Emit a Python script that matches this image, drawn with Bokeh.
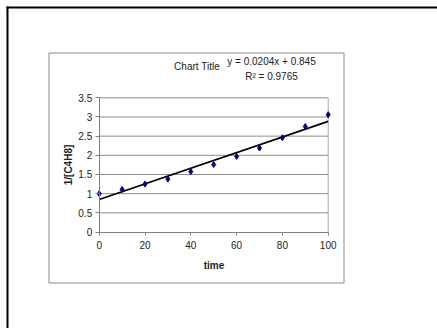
from bokeh.plotting import figure
from bokeh.models import LinearAxis, FixedTicker, Label, Range1d
from bokeh.embed import file_html
from bokeh.resources import INLINE

# ---- data ----
time = [0, 10, 20, 30, 40, 50, 60, 70, 80, 90, 100]
inv_c4h8 = [1.00, 1.11, 1.25, 1.38, 1.575, 1.76, 1.97, 2.19, 2.46, 2.75, 3.06]
slope = 0.0204
intercept = 0.845
r_squared = 0.9765
y_ticks = [0, 0.5, 1, 1.5, 2, 2.5, 3, 3.5]
y_tick_labels = ["0", "0.5", "1", "1.5", "2", "2.5", "3", "3.5"]
x_ticks = [0, 20, 40, 60, 80, 100]
chart_title = "Chart Title"
x_label = "time"
y_label = "1/[C4H8]"

FONT = "Liberation Sans"

# ---- geometry (page pixels) ----
W, H = 437, 328
X0_PX, X1_PX = 98.7, 327.7      # pixel of x=0 and x=100
Y0_PX, Y1_PX = 231.5, 97.3      # pixel of y=0 and y=3.5
XMIN, XMAX = x_ticks[0], x_ticks[-1]
YMIN, YMAX = y_ticks[0], y_ticks[-1]
kx = (X1_PX - X0_PX) / (XMAX - XMIN)
ky = (Y0_PX - Y1_PX) / (YMAX - YMIN)
x_start = XMIN - X0_PX / kx
x_end = x_start + W / kx
y_end = YMAX + Y1_PX / ky
y_start = y_end - H / ky


def px2x(px):
    return x_start + px / kx


def py2y(py):
    return y_end - py / ky


p = figure(width=W, height=H, output_backend="svg", toolbar_location=None,
           x_axis_location=None, y_axis_location=None,
           x_range=Range1d(x_start, x_end), y_range=Range1d(y_start, y_end),
           min_border=0, outline_line_color=None)
p.xgrid.visible = False
p.ygrid.visible = False
p.background_fill_color = "white"
p.border_fill_color = "white"

# outer page frame (black, only left and top edges visible) and chart box (grey)
p.segment(x0=[px2x(7), px2x(6)], y0=[py2y(6), py2y(7)],
          x1=[px2x(7), px2x(W + 40)], y1=[py2y(H + 40), py2y(7)],
          line_color="black", line_width=2)
p.quad(left=[px2x(48.5)], right=[px2x(343.5)], top=[py2y(52.5)], bottom=[py2y(282.5)],
       fill_color=None, line_color="#8a8a8a", line_width=1)

# gridlines (horizontal at y ticks, spanning the x extent) and right plot border
gy = y_ticks[1:]
p.segment(x0=[XMIN] * len(gy), x1=[XMAX] * len(gy), y0=gy, y1=gy,
          line_color="#8c8c8c", line_width=1)
p.segment(x0=[XMAX], x1=[XMAX], y0=[YMIN], y1=[YMAX], line_color="#a8a8a8", line_width=1)

# axes
common = dict(axis_label_text_font_style="bold", axis_label_text_font=FONT,
              axis_label_text_font_size="10px", axis_label_text_color="#222222",
              major_label_text_font=FONT, major_label_text_font_size="10px",
              major_label_text_color="#222222", axis_line_color="#808080",
              major_tick_line_color="#808080", major_tick_in=0,
              minor_tick_line_color=None)
yaxis = LinearAxis(fixed_location=XMIN, ticker=FixedTicker(ticks=y_ticks), bounds=(YMIN, YMAX),
                   major_label_overrides={t: l for t, l in zip(y_ticks, y_tick_labels)},
                   axis_label=y_label, major_tick_out=4, major_label_standoff=3,
                   axis_label_standoff=2, **common)
xaxis = LinearAxis(fixed_location=YMIN, ticker=FixedTicker(ticks=x_ticks), bounds=(XMIN, XMAX),
                   axis_label=x_label, major_tick_out=3, major_label_standoff=6,
                   axis_label_standoff=7, **common)
p.add_layout(yaxis, "left")
p.add_layout(xaxis, "below")

# trendline from fit coefficients
tx = [time[0], time[-1]]
ty = [intercept + slope * t for t in tx]
p.line(tx, ty, line_color="black", line_width=1.6)

# data points
p.scatter(time, inv_c4h8, marker="diamond", size=6, fill_color="#00008b", line_color="#00008b")

# texts
lab = dict(text_align="center", text_baseline="middle", text_font=FONT,
           text_font_size="10px", text_color="#222222")
p.add_layout(Label(x=px2x(196.5), y=py2y(66), text=chart_title, **lab))
p.add_layout(Label(x=px2x(271), y=py2y(61), text=f"y = {slope}x + {intercept}", **lab))
p.add_layout(Label(x=px2x(271), y=py2y(76), text=f"R\u00b2 = {r_squared}", **lab))

open("out.html", "w").write(file_html(p, INLINE))
